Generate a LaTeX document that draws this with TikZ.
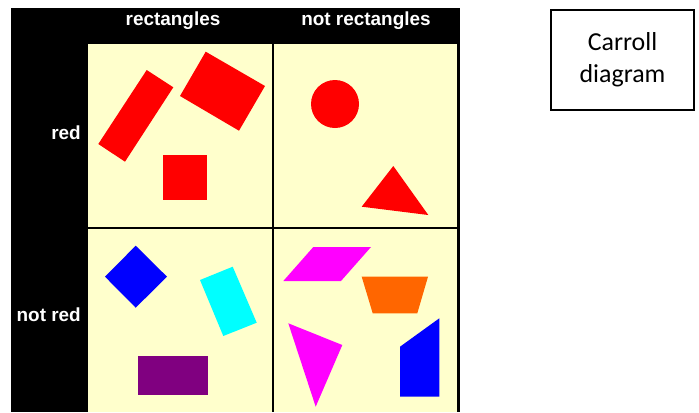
\documentclass[tikz,border=0pt]{standalone}
\usepackage{fontspec}
\setmainfont{Liberation Sans}
\newfontfamily\handfont{Carlito}
\definecolor{cellyellow}{HTML}{FFFFCC}
\definecolor{shapered}{HTML}{FF0000}
\definecolor{shapeblue}{HTML}{0000FF}
\definecolor{shapecyan}{HTML}{00FFFF}
\definecolor{shapepurple}{HTML}{800080}
\definecolor{shapemagenta}{HTML}{FF00FF}
\definecolor{shapeorange}{HTML}{FF6600}
\begin{document}
\begin{tikzpicture}[x=1bp,y=-1bp,
  header/.style={text=white,font=\bfseries\fontsize{19}{21}\selectfont,inner sep=0pt},
  title/.style={draw=black,line width=1.2bp,minimum width=143bp,minimum height=100bp,align=center,font=\handfont\fontsize{26}{32}\selectfont}]
\useasboundingbox (0,0) rectangle (699,412);
\fill[white] (0,0) rectangle (699,412);
% black frame
\fill[black] (11,8) rectangle (460,412);
\fill[cellyellow] (88,44) rectangle (457,412);
\draw[black,line width=2bp] (273,44) -- (273,412);
\draw[black,line width=2bp] (88,228) -- (457,228);
% headers
\node[header,anchor=center] (hrect) at (173,21) {rectangles};
\node[header,anchor=center] (hnrect) at (366,21) {not rectangles};
\node[header,anchor=east] (hred) at (81,133) {red};
\node[header,anchor=east] (hnred) at (81,315) {not red};
% title
\node[title] (ttl) at (622.5,60) {Carroll\\diagram};
% top-left: red rectangles
\fill[shapered] (146.7,70) -- (173.3,87.3) -- (125,161.7) -- (98.3,144) -- cycle;
\fill[shapered] (205.7,51.7) -- (265,86) -- (239,130.7) -- (180,96) -- cycle;
\fill[shapered] (162.7,155.3) rectangle (207.3,200);
% top-right: red non-rectangles
\fill[shapered] (335,104) circle[radius=24];
\fill[shapered] (393.3,166) -- (428.3,215) -- (361.7,206.7) -- cycle;
% bottom-left: not red rectangles
\fill[shapeblue] (135.7,245.7) -- (167,276.7) -- (135.7,307.7) -- (105,276.7) -- cycle;
\fill[shapecyan] (200,280) -- (232.7,266.7) -- (256.7,322.7) -- (223.3,336) -- cycle;
\fill[shapepurple] (138.3,355.7) rectangle (207.7,395);
% bottom-right: not red, not rectangles
\fill[shapemagenta] (313.3,247) -- (371,247) -- (341,281) -- (283.3,281) -- cycle;
\fill[shapeorange] (361.7,276.7) -- (428,276.7) -- (417.3,313.3) -- (372.7,313.3) -- cycle;
\fill[shapemagenta] (288.3,323.3) -- (342.3,345) -- (315.7,406.7) -- cycle;
\fill[shapeblue] (400,346.7) -- (439.3,318.3) -- (439.3,396.7) -- (400,396.7) -- cycle;
\end{tikzpicture}
\end{document}
